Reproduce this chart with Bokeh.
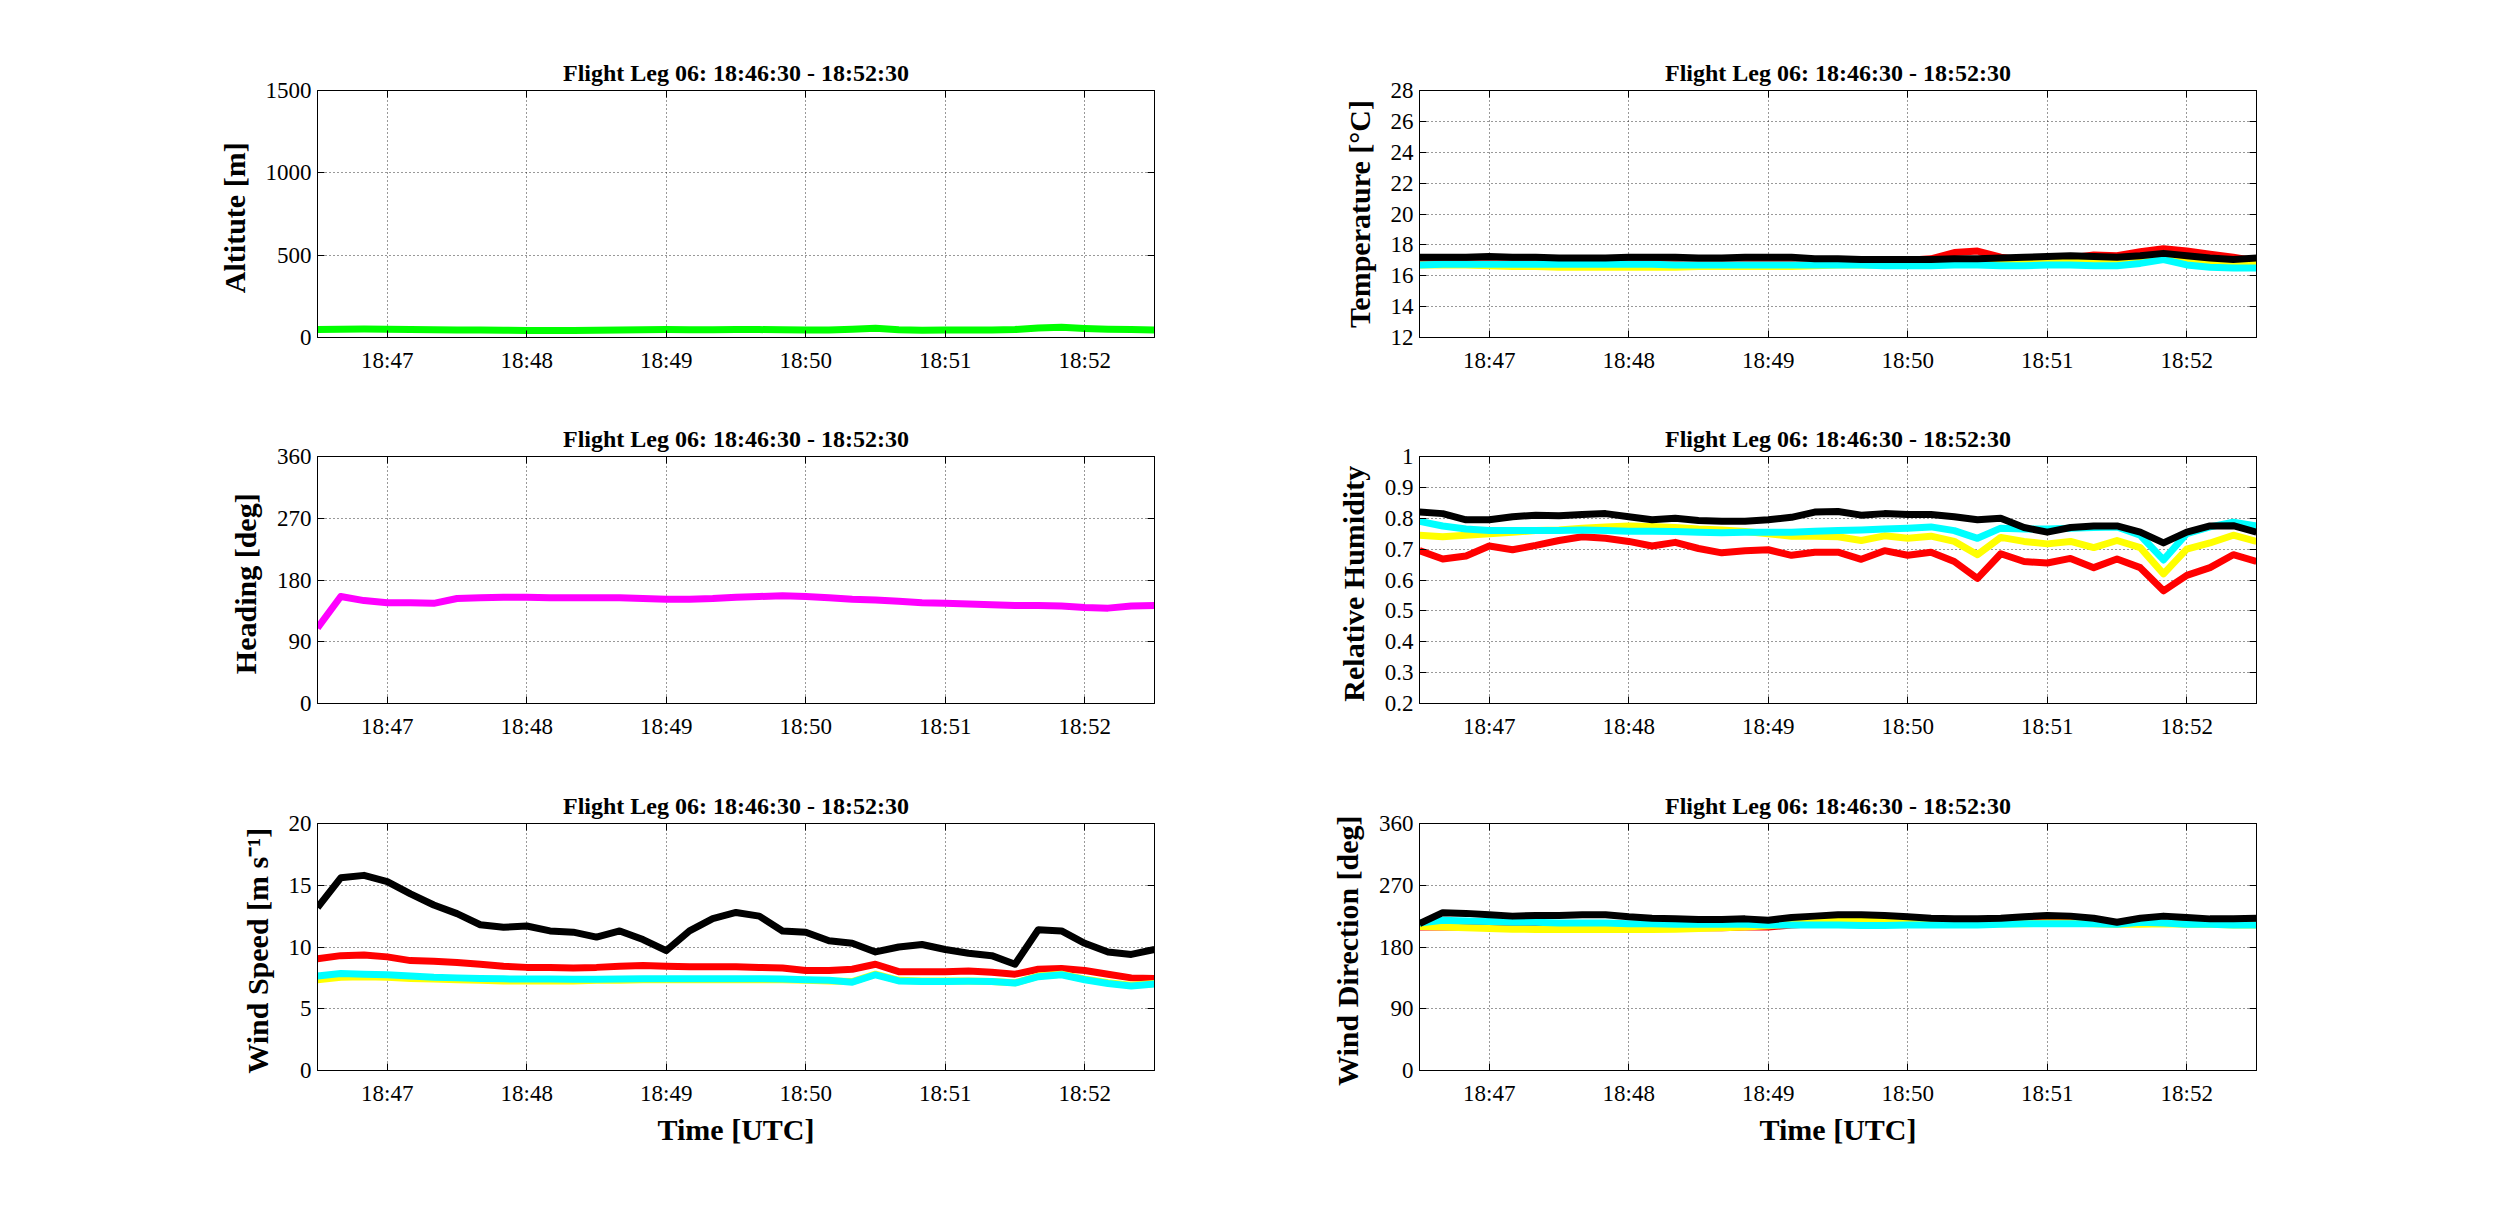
import pandas as pd
from bokeh.plotting import figure
from bokeh.layouts import column, row
from bokeh.models import (Range1d, FixedTicker, LinearAxis, DatetimeAxis,
                          DatetimeTickFormatter, ColumnDataSource)
from bokeh.embed import file_html
from bokeh.resources import INLINE

FONT = "Liberation Serif"
title_text = "Flight Leg 06: 18:46:30 - 18:52:30"

# sample times (10 s steps over the leg) and minute ticks
times = pd.date_range("2000-01-01 18:46:30", "2000-01-01 18:52:30", freq="10s")
x_ticks = ["18:47", "18:48", "18:49", "18:50", "18:51", "18:52"]

# Altitude [m]
altitude = [48, 50, 51, 50, 48, 47, 46, 45, 44, 42, 42, 43, 44, 46, 47, 48, 47, 47, 48,
            48, 47, 46, 45, 50, 56, 47, 44, 45, 46, 46, 48, 58, 62, 55, 50, 48, 46]

# Heading [deg]
heading = [110, 156, 150, 147, 147, 146, 153, 154, 155, 155, 154, 154, 154, 154, 153, 152,
           152, 153, 155, 156, 157, 156, 154, 152, 151, 149, 147, 146, 145, 144, 143, 143,
           142, 140, 139, 142, 143]

# Temperature [C]
temp_red = [17.0, 17.0, 17.05, 17.0, 17.0, 16.95, 16.9, 16.9, 16.85, 16.9, 16.95, 17.0, 17.0,
            17.0, 17.0, 17.0, 17.0, 16.95, 16.95, 17.0, 17.0, 17.0, 17.1, 17.5, 17.6, 17.2,
            17.0, 17.0, 17.15, 17.35, 17.3, 17.55, 17.75, 17.6, 17.4, 17.2, 16.95]
temp_yellow = [16.7, 16.7, 16.7, 16.65, 16.6, 16.6, 16.55, 16.55, 16.55, 16.55, 16.55, 16.55,
               16.6, 16.6, 16.6, 16.6, 16.6, 16.65, 16.7, 16.7, 16.7, 16.7, 16.75, 16.8, 16.8,
               16.8, 16.85, 16.9, 16.9, 16.9, 16.85, 16.95, 17.15, 17.0, 16.85, 16.8, 16.8]
temp_cyan = [16.7, 16.75, 16.75, 16.75, 16.75, 16.75, 16.75, 16.75, 16.75, 16.75, 16.75, 16.7,
             16.7, 16.7, 16.7, 16.7, 16.7, 16.7, 16.7, 16.7, 16.65, 16.65, 16.65, 16.7, 16.7,
             16.65, 16.65, 16.7, 16.7, 16.65, 16.65, 16.8, 17.05, 16.7, 16.55, 16.5, 16.5]
temp_black = [17.2, 17.2, 17.2, 17.25, 17.2, 17.2, 17.15, 17.15, 17.15, 17.2, 17.2, 17.2, 17.15,
              17.15, 17.2, 17.2, 17.2, 17.1, 17.1, 17.05, 17.05, 17.05, 17.05, 17.1, 17.1, 17.15,
              17.2, 17.25, 17.3, 17.25, 17.2, 17.3, 17.45, 17.3, 17.15, 17.05, 17.15]

# Relative humidity
rh_red = [0.695, 0.668, 0.678, 0.71, 0.698, 0.712, 0.728, 0.74, 0.735, 0.725, 0.71, 0.722, 0.702,
          0.688, 0.695, 0.698, 0.68, 0.69, 0.69, 0.667, 0.695, 0.68, 0.69, 0.66, 0.605, 0.685,
          0.66, 0.655, 0.67, 0.64, 0.668, 0.64, 0.565, 0.615, 0.64, 0.682, 0.66]
rh_yellow = [0.745, 0.74, 0.745, 0.75, 0.755, 0.76, 0.762, 0.768, 0.772, 0.775, 0.773, 0.77,
             0.765, 0.762, 0.757, 0.75, 0.742, 0.742, 0.74, 0.728, 0.743, 0.735, 0.742, 0.725,
             0.682, 0.738, 0.725, 0.717, 0.725, 0.705, 0.728, 0.705, 0.62, 0.7, 0.72, 0.745, 0.725]
rh_cyan = [0.79, 0.775, 0.765, 0.76, 0.76, 0.76, 0.76, 0.762, 0.76, 0.758, 0.758, 0.757, 0.755,
           0.753, 0.755, 0.755, 0.755, 0.758, 0.76, 0.762, 0.765, 0.768, 0.772, 0.76, 0.735,
           0.768, 0.765, 0.765, 0.768, 0.77, 0.772, 0.745, 0.665, 0.75, 0.772, 0.787, 0.775]
rh_black = [0.82, 0.815, 0.795, 0.795, 0.805, 0.81, 0.808, 0.812, 0.815, 0.805, 0.795, 0.8, 0.793,
            0.79, 0.79, 0.795, 0.803, 0.82, 0.822, 0.81, 0.815, 0.812, 0.812, 0.805, 0.795, 0.8,
            0.77, 0.755, 0.77, 0.775, 0.775, 0.755, 0.72, 0.755, 0.775, 0.776, 0.755]

# Wind speed [m s-1]
ws_red = [9.05, 9.3, 9.35, 9.2, 8.9, 8.85, 8.75, 8.6, 8.45, 8.35, 8.35, 8.3, 8.35, 8.45, 8.5,
          8.45, 8.4, 8.4, 8.4, 8.35, 8.3, 8.1, 8.1, 8.2, 8.6, 8.0, 8.0, 8.0, 8.05, 7.95, 7.8,
          8.2, 8.25, 8.1, 7.8, 7.5, 7.45]
ws_yellow = [7.35, 7.55, 7.6, 7.55, 7.45, 7.4, 7.35, 7.3, 7.25, 7.25, 7.25, 7.25, 7.3, 7.3,
             7.35, 7.35, 7.35, 7.35, 7.35, 7.35, 7.35, 7.3, 7.25, 7.2, 7.8, 7.3, 7.25, 7.25,
             7.25, 7.2, 7.1, 7.65, 7.8, 7.4, 7.1, 6.9, 7.05]
ws_cyan = [7.65, 7.85, 7.8, 7.75, 7.65, 7.55, 7.5, 7.45, 7.42, 7.4, 7.4, 7.38, 7.38, 7.4, 7.42,
           7.43, 7.43, 7.42, 7.43, 7.43, 7.4, 7.35, 7.3, 7.15, 7.75, 7.25, 7.2, 7.2, 7.22, 7.2,
           7.08, 7.6, 7.75, 7.35, 7.05, 6.85, 7.0]
ws_black = [13.2, 15.6, 15.8, 15.3, 14.3, 13.4, 12.7, 11.8, 11.6, 11.7, 11.3, 11.2, 10.8, 11.3,
            10.6, 9.7, 11.3, 12.3, 12.8, 12.5, 11.3, 11.2, 10.5, 10.3, 9.6, 10.0, 10.2, 9.8, 9.5,
            9.3, 8.6, 11.4, 11.3, 10.3, 9.6, 9.4, 9.8]

# Wind direction [deg]
wd_red = [209, 209, 209, 209, 209, 209, 209, 209, 208, 208, 208, 208, 208, 208, 209, 209, 212,
          214, 215, 215, 216, 216, 216, 216, 216, 216, 217, 218, 217, 216, 215, 215, 215, 215,
          214, 214, 214]
wd_yellow = [210, 209, 208, 207, 206, 205.5, 205.5, 205.5, 205.5, 205.5, 205.5, 206, 207, 208,
             209, 211, 214, 216, 218, 219, 219, 218, 216, 215, 214, 214, 214, 215, 215, 214,
             213, 213, 214, 213, 213, 212, 212]
wd_cyan = [215, 219, 218, 217, 216, 216, 215, 215, 215, 214, 214, 213, 213, 213, 213, 212, 212,
           212, 212, 211.5, 211.5, 212, 212, 212, 212, 213, 214, 214, 214, 214, 213, 216, 215,
           213, 213, 212, 212]
wd_black = [214, 230, 229, 227, 225, 226, 226, 227, 227, 224, 222, 221, 220, 220, 221, 219, 223,
            225, 227, 227, 226, 224, 222, 221, 221, 222, 224, 226, 225, 222, 216, 222, 225, 223,
            221, 221, 222]

alt_ticks = [0, 500, 1000, 1500]
temp_ticks = [12, 14, 16, 18, 20, 22, 24, 26, 28]
deg_ticks = [0, 90, 180, 270, 360]
rh_ticks = [0.2, 0.3, 0.4, 0.5, 0.6, 0.7, 0.8, 0.9, 1.0]
rh_tick_labels = ["0.2", "0.3", "0.4", "0.5", "0.6", "0.7", "0.8", "0.9", "1"]
ws_ticks = [0, 5, 10, 15, 20]

tick_ms = [pd.Timestamp("2000-01-01 " + t).value // 10**6 for t in x_ticks]
fmt = "%H:%M"


def style_axis(ax, ticks):
    ax.ticker = FixedTicker(ticks=ticks)
    ax.major_tick_in = 7
    ax.major_tick_out = 0
    ax.minor_tick_line_color = None
    ax.axis_line_color = "black"
    ax.major_tick_line_color = "black"
    ax.major_label_text_font = FONT
    ax.major_label_text_font_size = "23px"
    ax.major_label_text_color = "black"


def panel(ylabel, yticks, ylabels, lines, left, top, bottom, right, xlabel=None):
    p = figure(x_axis_type="datetime", frame_width=837, frame_height=247,
               x_range=Range1d(times[0], times[-1]),
               y_range=Range1d(yticks[0], yticks[-1]),
               min_border_left=left, min_border_top=top, min_border_bottom=bottom,
               min_border_right=right, title=title_text,
               toolbar_location=None, tools="", output_backend="svg")
    src = ColumnDataSource(dict(t=times, **{k: v for k, (v, c) in lines.items()}))
    for k, (v, c) in lines.items():
        p.line("t", k, source=src, color=c, line_width=7, line_join="round")

    p.title.text_font = FONT
    p.title.text_font_size = "24px"
    p.title.text_font_style = "bold"
    p.title.align = "center"
    p.title.text_color = "black"

    style_axis(p.xaxis[0], tick_ms)
    p.xaxis[0].formatter = DatetimeTickFormatter(seconds=fmt, minsec=fmt, minutes=fmt,
                                                 hourmin=fmt, hours=fmt)
    p.xaxis[0].major_label_standoff = 10
    style_axis(p.yaxis[0], yticks)
    p.yaxis[0].major_label_overrides = dict(zip(yticks, ylabels))
    p.yaxis[0].major_label_standoff = 6
    p.yaxis[0].axis_label = ylabel
    p.yaxis[0].axis_label_text_font = FONT
    p.yaxis[0].axis_label_text_font_size = "30px"
    p.yaxis[0].axis_label_text_font_style = "bold"
    p.yaxis[0].axis_label_text_color = "black"
    p.yaxis[0].axis_label_standoff = 12
    if xlabel:
        p.xaxis[0].axis_label = xlabel
        p.xaxis[0].axis_label_text_font = FONT
        p.xaxis[0].axis_label_text_font_size = "30px"
        p.xaxis[0].axis_label_text_font_style = "bold"
        p.xaxis[0].axis_label_text_color = "black"
        p.xaxis[0].axis_label_standoff = 4

    # inward ticks on the opposite sides, as in a boxed axes
    yr = LinearAxis()
    style_axis(yr, yticks)
    yr.major_label_overrides = {t: "" for t in yticks}
    yr.major_label_standoff = 0
    p.add_layout(yr, "right")
    xt = DatetimeAxis()
    style_axis(xt, tick_ms)
    xt.major_label_overrides = {t: "" for t in tick_ms}
    xt.major_label_standoff = 0
    p.add_layout(xt, "above")

    p.xgrid.grid_line_color = "black"
    p.ygrid.grid_line_color = "black"
    p.xgrid.grid_line_dash = "1 3"
    p.ygrid.grid_line_dash = "1 3"
    p.xgrid.grid_line_alpha = 0.8
    p.ygrid.grid_line_alpha = 0.8
    p.outline_line_color = "black"
    p.outline_line_width = 1
    p.background_fill_color = "white"
    p.border_fill_color = "white"
    return p


def four(r, y, c, k):
    return {"r": (r, "#ff0000"), "y": (y, "#ffff00"), "c": (c, "#00ffff"), "k": (k, "#000000")}


L_LEFT, L_RIGHT = 317, 86
R_LEFT, R_RIGHT = 179, 100

p1 = panel("Altitute  [m]", alt_ticks, [str(v) for v in alt_ticks],
           {"a": (altitude, "#00ff00")}, L_LEFT, 90, 69, L_RIGHT)
p2 = panel("Temperature [°C]", temp_ticks, [str(v) for v in temp_ticks],
           four(temp_red, temp_yellow, temp_cyan, temp_black), R_LEFT, 90, 69, R_RIGHT)
p3 = panel("Heading  [deg]", deg_ticks, [str(v) for v in deg_ticks],
           {"h": (heading, "#ff00ff")}, L_LEFT, 50, 69, L_RIGHT)
p4 = panel("Relative  Humidity", rh_ticks, rh_tick_labels,
           four(rh_red, rh_yellow, rh_cyan, rh_black), R_LEFT, 50, 69, R_RIGHT)
p5 = panel("Wind Speed  [m s⁻¹]", ws_ticks, [str(v) for v in ws_ticks],
           four(ws_red, ws_yellow, ws_cyan, ws_black), L_LEFT, 51, 132, L_RIGHT,
           xlabel="Time [UTC]")
p6 = panel("Wind Direction  [deg]", deg_ticks, [str(v) for v in deg_ticks],
           four(wd_red, wd_yellow, wd_cyan, wd_black), R_LEFT, 51, 132, R_RIGHT,
           xlabel="Time [UTC]")

layout = column(row(p1, p2), row(p3, p4), row(p5, p6))

open("out.html", "w").write(file_html(layout, INLINE))
